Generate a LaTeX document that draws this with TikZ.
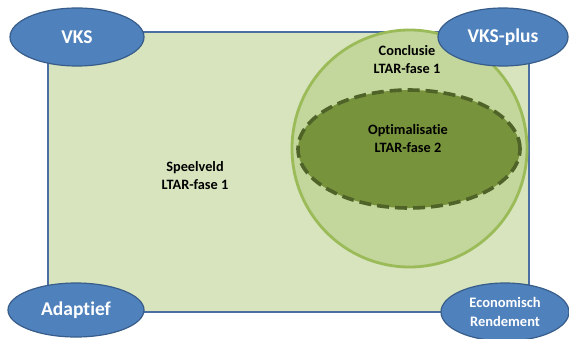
\documentclass[tikz,border=0pt]{standalone}
\usepackage{fontspec}
\setmainfont[Ligatures=NoCommon]{Carlito}
\usetikzlibrary{shapes.geometric}
\definecolor{fieldfill}{HTML}{D7E4BD}
\definecolor{fieldborder}{HTML}{4A6FA0}
\definecolor{blobfill}{HTML}{4F81BD}
\definecolor{blobborder}{HTML}{385D8A}
\definecolor{circfill}{HTML}{C3D69B}
\definecolor{circborder}{HTML}{9BBB59}
\definecolor{optfill}{HTML}{77933C}
\definecolor{optborder}{HTML}{4F6228}
\tikzset{
  blob/.style={ellipse, fill=blobfill, draw=blobborder, line width=1.2pt,
    text=white, font=\bfseries\fontsize{19.5}{21}\selectfont, align=center, inner sep=0pt},
  smallblob/.style={blob, font=\bfseries\fontsize{14.5}{18.5}\selectfont},
  lbl/.style={font=\bfseries\fontsize{14.3}{18}\selectfont, align=center, text=black}
}
\begin{document}
\begin{tikzpicture}[x=1pt,y=-1pt]
\useasboundingbox (0,0) rectangle (569,338);
% playing field
\node[draw=fieldborder, fill=fieldfill, line width=1.2pt, minimum width=481pt, minimum height=280pt, inner sep=0pt] (field) at (288.5,172) {};
% conclusion circle
\node[ellipse, fill=circfill, draw=circborder, line width=2.8pt, minimum width=235pt, minimum height=237pt, inner sep=0pt] (concl) at (409.5,148.5) {};
% optimisation ellipse
\node[ellipse, fill=optfill, draw=optborder, line width=3.6pt, dash pattern=on 12pt off 6pt, minimum width=222pt, minimum height=118pt, inner sep=0pt] (opt) at (409,149) {};
% texts
\node[lbl] (tspeel) at (195,175.5) {Speelveld\\LTAR-fase 1};
\node[lbl] (tconcl) at (407,59.5) {Conclusie\\LTAR-fase 1};
\node[lbl] (topt) at (408,139) {Optimalisatie\\LTAR-fase 2};
% corner ellipses
\node[blob, minimum width=134pt, minimum height=58pt] (vks) at (77,37) {VKS};
\node[blob, minimum width=130pt, minimum height=58pt] (vksplus) at (503,37) {VKS-plus};
\node[blob, minimum width=136pt, minimum height=54pt] (adapt) at (76,310) {Adaptief};
\node[smallblob, minimum width=128pt, minimum height=58pt] (econ) at (505,312) {Economisch\\Rendement};
\end{tikzpicture}
\end{document}
